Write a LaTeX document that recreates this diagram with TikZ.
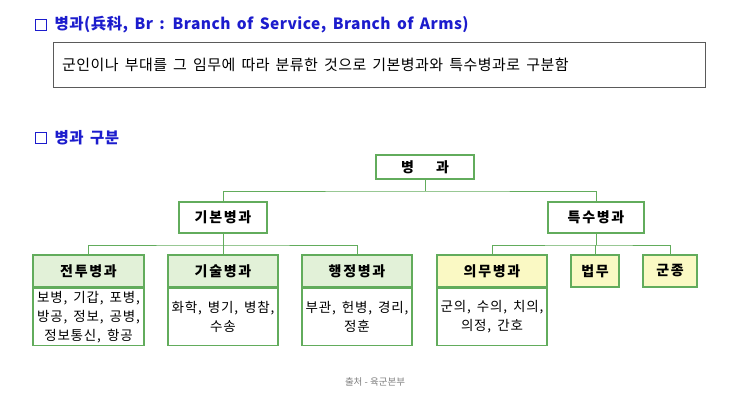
\documentclass[tikz,border=0pt]{standalone}
\usepackage{fontspec}
\setmainfont{Noto Sans CJK KR}
\newfontfamily\widefont[LetterSpace=3,WordSpace=2.4]{Noto Sans CJK KR}
\newfontfamily\titlefont[LetterSpace=3,WordSpace=1.6]{Noto Sans CJK KR}
\newfontfamily\boxfont[LetterSpace=6,WordSpace=1.6]{Noto Sans CJK KR}
\newfontfamily\headfont[LetterSpace=12]{Noto Sans CJK KR}
\usetikzlibrary{positioning}

\definecolor{titleblue}{RGB}{28,28,205}
\definecolor{linegreen}{RGB}{98,172,92}
\definecolor{headgreen}{RGB}{226,241,216}
\definecolor{headyellow}{RGB}{250,249,196}
\definecolor{framegray}{RGB}{90,90,90}

\begin{document}
\begin{tikzpicture}[x=1pt,y=-1pt,
  checkbox/.style={draw=titleblue, line width=1pt, minimum size=11pt, inner sep=0pt},
  heading/.style={text=titleblue, font=\titlefont\fontsize{15.5}{17}\selectfont\bfseries, inner sep=0pt, anchor=west},
  box/.style={draw=linegreen, line width=1.2pt, minimum height=31pt, inner sep=0pt, font=\headfont\fontsize{14}{16}\selectfont\bfseries},
  head/.style={box, minimum height=32pt},
  body/.style={draw=linegreen, line width=1.2pt, minimum height=57pt, inner sep=0pt, align=center, font=\boxfont\fontsize{13.5}{19}\selectfont},
  link/.style={linegreen, line width=1pt}]
\useasboundingbox[fill=white] (0,0) rectangle (743,402);

% titles and definition
\node[checkbox] (mark1) at (40.5,25) {};
\node[heading, right=8pt of mark1] (title1) {병과(兵科, Br : Branch of Service, Branch of Arms)};
\node[draw=framegray, line width=0.9pt, minimum width=652pt, minimum height=45pt, anchor=north west] (defbox) at (53,42) {};
\node[anchor=west, inner sep=0pt, font=\widefont\fontsize{15}{17}\selectfont] (deftext) at (62,65) {군인이나 부대를 그 임무에 따라 분류한 것으로 기본병과와 특수병과로 구분함};
\node[checkbox] (mark2) at (40.5,138) {};
\node[heading, right=8pt of mark2] (title2) {병과 구분};

% tree
\node[box, minimum width=98pt, minimum height=24pt] (root) at (425,167) {병\hspace{22pt}과};
\node[box, minimum width=88pt] (basic) at (223,217.5) {기본병과};
\node[box, minimum width=96pt] (special) at (596,217.5) {특수병과};

\node[head, fill=headgreen, minimum width=111pt] (combat) at (88.5,271) {전투병과};
\node[head, fill=headgreen, minimum width=110pt] (tech) at (223,271) {기술병과};
\node[head, fill=headgreen, minimum width=110pt] (admin) at (357,271) {행정병과};
\node[head, fill=headyellow, minimum width=110pt] (medic) at (492,271) {의무병과};
\node[head, fill=headyellow, minimum width=48pt] (law) at (595,271) {법무};
\node[head, fill=headyellow, minimum width=54pt] (chap) at (670,271) {군종};

\node[body, minimum width=111pt, below=0pt of combat] (combatlist) {보병, 기갑, 포병,\\방공, 정보, 공병,\\정보통신, 항공};
\node[body, minimum width=110pt, below=0pt of tech] (techlist) {화학, 병기, 병참,\\수송};
\node[body, minimum width=110pt, below=0pt of admin] (adminlist) {부관, 헌병, 경리,\\정훈};
\node[body, minimum width=110pt, below=0pt of medic] (mediclist) {군의, 수의, 치의,\\의정, 간호};

\coordinate (j0) at (425,191);
\coordinate (j1) at (223,245);
\coordinate (j2) at (596,245);
\draw[link] (root.south) -- (j0);
\draw[link] (basic.north) |- (j0) -| (special.north);
\draw[link] (basic.south) -- (j1);
\draw[link] (combat.north) |- (j1) -| (admin.north);
\draw[link] (tech.north) -- (j1);
\draw[link] (special.south) -- (j2);
\draw[link] (medic.north) |- (j2) -| (chap.north);
\draw[link] (law.north) -- (law.north |- j2);

\node[text=gray, font=\fontsize{9.5}{11}\selectfont] (source) at (375,382) {출처 - 육군본부};
\end{tikzpicture}
\end{document}
